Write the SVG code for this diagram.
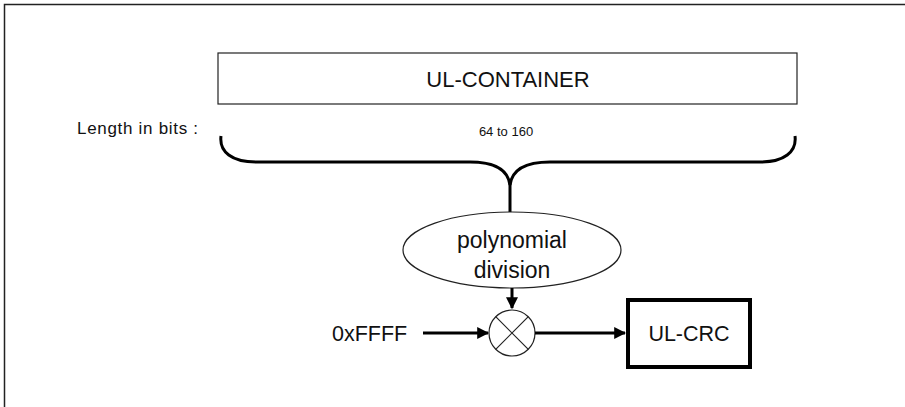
<svg xmlns="http://www.w3.org/2000/svg" width="905" height="407" viewBox="0 0 905 407">
<defs>
<style>
text{font-family:"Liberation Sans","DejaVu Sans",sans-serif;fill:#111}
.ln{fill:none;stroke:#000;stroke-width:3}
.thin{fill:#fff;stroke:#222;stroke-width:1.2}
</style>
<marker id="ah" viewBox="0 0 10 10" refX="9" refY="5" markerWidth="4" markerHeight="4" orient="auto" markerUnits="strokeWidth">
<path d="M0,0 L10,5 L0,10 z" fill="#000"/>
</marker>
</defs>
<rect width="905" height="407" fill="#fff"/>
<path d="M4.5,407 V4.5 H905" fill="none" stroke="#222" stroke-width="1.5"/>
<g id="container">
<rect x="218" y="53" width="579" height="51" class="thin"/>
<text x="508" y="87" font-size="22" text-anchor="middle">UL-CONTAINER</text>
</g>
<g id="length-label">
<text x="77" y="134" font-size="17" letter-spacing="0.7">Length in bits :</text>
<text x="506" y="136" font-size="13" text-anchor="middle">64 to 160</text>
</g>
<g id="brace">
<path class="ln" d="M221,136 C219,152 232,162 256,162 H470 C495,162 508,170 510,185 C512,170 525,162 550,162 H760 C784,162 797,152 795,136"/>
<path class="ln" d="M510,180 V212"/>
</g>
<g id="division">
<ellipse cx="512" cy="250" rx="109" ry="38" class="thin"/>
<text x="512" y="248" font-size="23" text-anchor="middle">polynomial</text>
<text x="512" y="278" font-size="23" text-anchor="middle">division</text>
</g>
<g id="mixer">
<circle cx="512" cy="333" r="23" class="thin"/>
<path d="M495.7,316.7 L528.3,349.3 M528.3,316.7 L495.7,349.3" stroke="#222" stroke-width="1.2"/>
</g>
<g id="input">
<text x="332" y="341" font-size="21.5">0xFFFF</text>
</g>
<g id="crc">
<rect x="628" y="300" width="122" height="67" fill="#fff" stroke="#000" stroke-width="4"/>
<text x="689" y="341" font-size="21.5" text-anchor="middle">UL-CRC</text>
</g>
<g id="connectors">
<path class="ln" d="M512,288 V308" marker-end="url(#ah)"/>
<path class="ln" d="M423,333 H488" marker-end="url(#ah)"/>
<path class="ln" d="M535,333 H625" marker-end="url(#ah)"/>
</g>
</svg>
